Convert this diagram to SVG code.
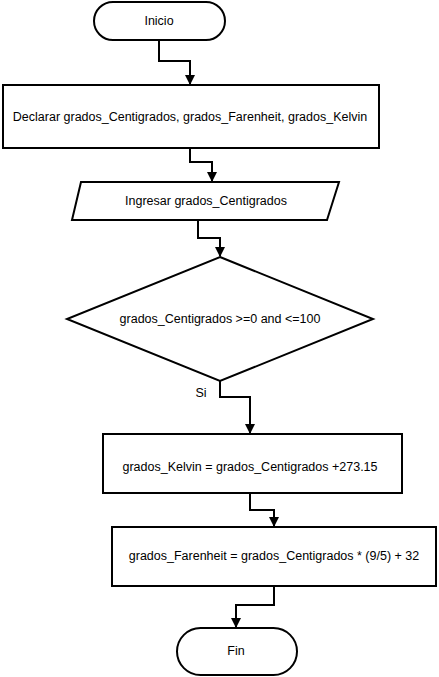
<svg xmlns="http://www.w3.org/2000/svg" width="439" height="677" viewBox="0 0 439 677">
<defs>
<style>
.s{fill:#fff;stroke:#000;stroke-width:2}
.t{font-family:"Liberation Sans",Arial,sans-serif;font-size:12.5px;fill:#000;text-anchor:middle;dominant-baseline:central}
.c{fill:none;stroke:#000;stroke-width:2}
</style>
<marker id="a" markerWidth="10" markerHeight="10" refX="9" refY="5" orient="auto" markerUnits="userSpaceOnUse">
<path d="M0,0 L10,5 L0,10 Z" fill="#000"/>
</marker>
</defs>
<rect width="439" height="677" fill="#fff"/>
<g id="connectors">
<path class="c" d="M159,40 V61 H190 V84" marker-end="url(#a)"/>
<path class="c" d="M190,148 V162 H212 V181" marker-end="url(#a)"/>
<path class="c" d="M198,220 V238 H220 V256" marker-end="url(#a)"/>
<path class="c" d="M220,381 V397 H250 V433" marker-end="url(#a)"/>
<path class="c" d="M250,493 V510 H274 V526" marker-end="url(#a)"/>
<path class="c" d="M274,586 V605 H236 V627" marker-end="url(#a)"/>
<text class="t" x="201" y="393">Si</text>
</g>
<g id="inicio">
<rect class="s" x="94" y="2" width="131" height="38" rx="19" ry="19"/>
<text class="t" x="159" y="21">Inicio</text>
</g>
<g id="declarar">
<rect class="s" x="3" y="85" width="376" height="63"/>
<text class="t" x="190" y="117">Declarar grados_Centigrados, grados_Farenheit, grados_Kelvin</text>
</g>
<g id="ingresar">
<polygon class="s" points="81,182 339,182 327,220 72,220"/>
<text class="t" x="206" y="201">Ingresar grados_Centigrados</text>
</g>
<g id="decision">
<polygon class="s" points="220,257 373,319 220,381 67,319"/>
<text class="t" x="220" y="319">grados_Centigrados &gt;=0 and &lt;=100</text>
</g>
<g id="kelvin">
<rect class="s" x="103" y="434" width="299" height="59"/>
<text class="t" x="250" y="467">grados_Kelvin = grados_Centigrados +273.15</text>
</g>
<g id="farenheit">
<rect class="s" x="112" y="527" width="324" height="59"/>
<text class="t" x="274" y="556">grados_Farenheit = grados_Centigrados * (9/5) + 32</text>
</g>
<g id="fin">
<rect class="s" x="177" y="628" width="120" height="47" rx="23.5" ry="23.5"/>
<text class="t" x="236" y="651">Fin</text>
</g>
</svg>
